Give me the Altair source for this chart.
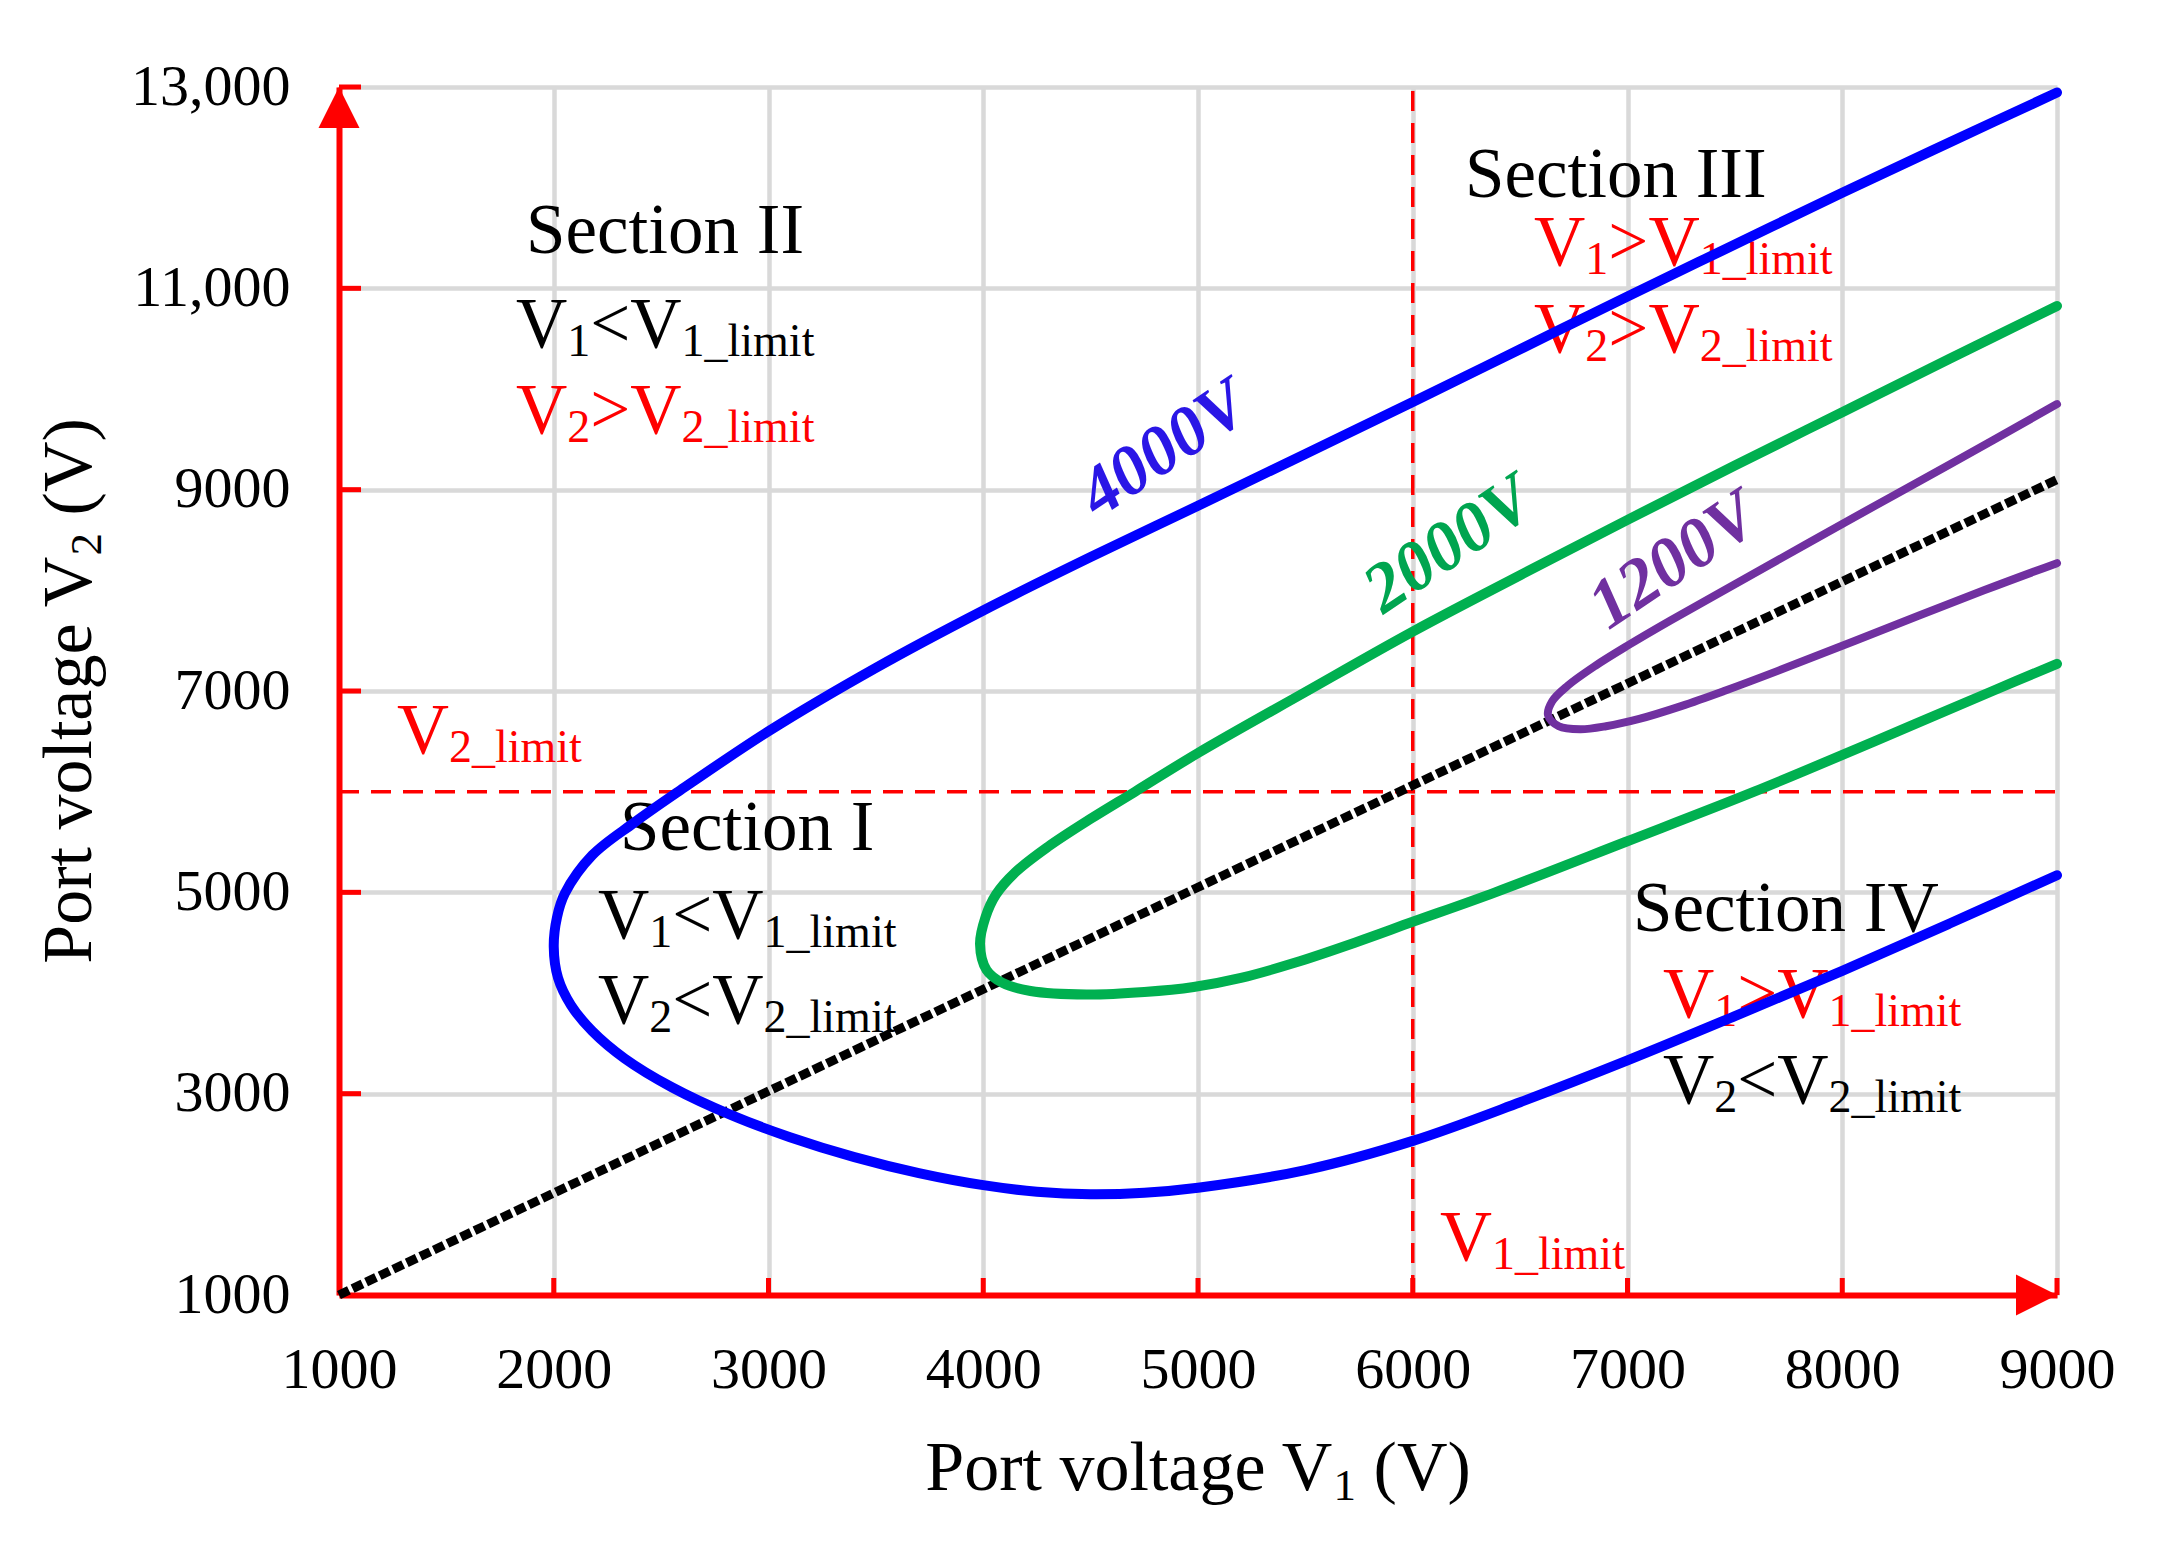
import altair as alt
import pandas as pd

FONT = "Liberation Serif"

# ---------------- data ----------------
X_TICKS = [1000, 2000, 3000, 4000, 5000, 6000, 7000, 8000, 9000]
Y_TICKS = [1000, 3000, 5000, 7000, 9000, 11000, 13000]

# 4000V curve, upper branch (from vertex to the right edge)
BLUE_UP_V1 = [2000, 2015, 2052, 2180, 2373, 2580, 3000, 3500, 4000, 4500, 5000, 5500, 6000,
              6500, 7000, 7500, 8000, 8500, 9000]
BLUE_UP_V2 = [4460, 4750, 4990, 5370, 5690, 6000, 6600, 7230, 7800, 8330, 8840, 9355, 9870,
              10395, 10920, 11435, 11950, 12450, 12945]
# 4000V curve, lower branch
BLUE_LO_V1 = [2000, 2020, 2080, 2180, 2330, 2550, 2830, 3100, 3400, 3700, 4000, 4250, 4500,
              4750, 5000, 5500, 6000, 6500, 7000, 7500, 8000, 8500, 9000]
BLUE_LO_V2 = [4460, 4150, 3880, 3620, 3350, 3064, 2784, 2568, 2370, 2211, 2091, 2026, 2001,
              2016, 2066, 2241, 2531, 2915, 3330, 3770, 4220, 4690, 5170]

# 2000V curve
GREEN_UP_V1 = [3985, 4010, 4060, 4150, 4300, 4500, 4707, 5000, 5500, 6000, 6500, 7000, 7500,
               8000, 8500, 9000]
GREEN_UP_V2 = [4485, 4750, 4980, 5200, 5450, 5730, 6000, 6384, 6990, 7590, 8150, 8700, 9240,
               9770, 10300, 10825]
GREEN_LO_V1 = [3985, 4015, 4090, 4220, 4480, 4750, 4980, 5200, 5450, 5730, 6000, 6384, 6990,
               7590, 8150, 8700, 9000]
GREEN_LO_V2 = [4485, 4230, 4100, 4020, 3985, 4010, 4060, 4150, 4300, 4500, 4707, 5000, 5500,
               6000, 6500, 7000, 7270]

# 1200V curve
PURPLE_UP_V1 = [6630, 6650, 6720, 6850, 7000, 7200, 7500, 8000, 8500, 9000]
PURPLE_UP_V2 = [6760, 6900, 7050, 7250, 7450, 7700, 8060, 8660, 9250, 9850]
PURPLE_LO_V1 = [6630, 6680, 6780, 6900, 7050, 7250, 7450, 7700, 8060, 8660, 9000]
PURPLE_LO_V2 = [6760, 6650, 6620, 6650, 6720, 6850, 7000, 7200, 7500, 8000, 8270]

DIAG_V1 = [1000, 9000]
DIAG_V2 = [1000, 9100]

V1_LIMIT = 6000
V2_LIMIT = 6000

# ---------------- layout ----------------
W, H = 1718, 1208
XS = alt.Scale(domain=[1000, 9000], nice=False, zero=False)
YS = alt.Scale(domain=[1000, 13000], nice=False, zero=False)

AX = alt.Axis(values=X_TICKS, grid=True, gridColor="#d9d9d9", gridWidth=4.5,
              domainColor="#ff0000", domainWidth=6, ticks=False, labelFont=FONT,
              labelFontSize=58, labelColor="black", labelPadding=46, title=None,
              labelFlush=False, labelOverlap=False, format="d")
AY = alt.Axis(values=Y_TICKS, grid=True, gridColor="#d9d9d9", gridWidth=4.5,
              domainColor="#ff0000", domainWidth=6, ticks=False, labelFont=FONT,
              labelFontSize=58, labelColor="black", labelPadding=49, title=None,
              labelFlush=False, labelOverlap=False,
              labelExpr="datum.value >= 10000 ? format(datum.value, ',') : format(datum.value, 'd')")


def X(f):
    return alt.X(f, type="quantitative", scale=XS, axis=AX)


def Y(f):
    return alt.Y(f, type="quantitative", scale=YS, axis=AY)


# Times-like advance widths (em)
CW = {' ': 0.25, '(': 0.333, ')': 0.333, '_': 0.5, '<': 0.564, '>': 0.564, ',': 0.25,
      'V': 0.722, 'S': 0.556, 'I': 0.333, 'P': 0.556, 'e': 0.444, 'c': 0.444, 't': 0.278,
      'i': 0.278, 'o': 0.5, 'n': 0.5, 'l': 0.278, 'm': 0.778, 'r': 0.333, 'v': 0.5,
      'a': 0.444, 'g': 0.5}


def tw(s, fs):
    return sum(CW.get(c, 0.5) for c in s) * fs


def rich(parts, color, x=None, y=None, px=None, py=None, size=71, sub=46, shift=9,
         angle=0, start=0.0):
    layers = []
    off = start
    for txt, is_sub in parts:
        fs = sub if is_sub else size
        lead = len(txt) - len(txt.lstrip(' '))
        off += lead * CW[' '] * fs
        body = txt.lstrip(' ')
        df = pd.DataFrame({"t": [body], "x": [x if x is not None else 0],
                           "y": [y if y is not None else 0]})
        kw = dict(align="left", baseline="alphabetic", font=FONT, fontSize=fs,
                  color=color, dx=off, dy=(shift if is_sub else 0))
        if angle:
            kw["angle"] = angle
        mk = alt.Chart(df).mark_text(**kw)
        if px is None:
            enc = dict(x=X("x"), y=Y("y"), text="t:N")
        else:
            enc = dict(x=alt.value(px), y=alt.value(py), text="t:N")
        layers.append(mk.encode(**enc))
        off += tw(body, fs)
    return layers


def cond(a, op, b):
    return [("V", False), (a, True), (op + "V", False), (b + "_limit", True)]


layers = []

# limit lines
layers.append(alt.Chart(pd.DataFrame({"a": [1000], "b": [9000], "y": [V2_LIMIT]})).mark_rule(
    color="#ff0000", strokeWidth=3.5, strokeDash=[20, 12]).encode(x=X("a"), x2="b", y=Y("y")))
layers.append(alt.Chart(pd.DataFrame({"x": [V1_LIMIT], "a": [1000], "b": [13000]})).mark_rule(
    color="#ff0000", strokeWidth=3.5, strokeDash=[20, 12]).encode(x=X("x"), y=Y("a"), y2="b"))

# ---------------- texts ----------------
layers += rich([("Section II", False)], "black", x=1871, y=11351)
layers += rich(cond("1", "<", "1"), "black", x=1824, y=10417)
layers += rich(cond("2", ">", "2"), "#ff0000", x=1824, y=9563)

layers += rich([("Section III", False)], "black", x=6243, y=11907)
layers += rich(cond("1", ">", "1"), "#ff0000", x=6565, y=11232)
layers += rich(cond("2", ">", "2"), "#ff0000", x=6565, y=10367)

layers += rich([("Section I", False)], "black", x=2309, y=5420)
layers += rich(cond("1", "<", "1"), "black", x=2206, y=4546)
layers += rich(cond("2", "<", "2"), "black", x=2206, y=3702)

layers += rich([("Section IV", False)], "black", x=7026, y=4616)
layers += rich(cond("1", ">", "1"), "#ff0000", x=7165, y=3762)
layers += rich(cond("2", "<", "2"), "black", x=7165, y=2907)

layers += rich([("V", False), ("2_limit", True)], "#ff0000", x=1270, y=6384, size=72)
layers += rich([("V", False), ("1_limit", True)], "#ff0000", x=6127, y=1348, size=72)

# axis titles
TS, TSS = 70, 45
xparts = [("Port voltage V", False), ("1", True), (" (V)", False)]
xtot = tw("Port voltage V", TS) + tw("1", TSS) + tw(" (V)", TS)
layers += rich(xparts, "black", px=W / 2 - xtot / 2, py=1403, size=TS, sub=TSS, shift=10)
yparts = [("Port voltage V", False), ("2", True), (" (V)", False)]
layers += rich(yparts, "black", px=-248, py=H / 2 + xtot / 2, size=TS, sub=TSS, shift=10,
               angle=270)

# ---------------- diagonal (hatched) ----------------
diag_df = pd.DataFrame({"v1": DIAG_V1, "v2": DIAG_V2})
layers.append(alt.Chart(diag_df).mark_line(color="black", strokeWidth=9, strokeDash=[11, 4],
                                           strokeCap="butt").encode(x=X("v1"), y=Y("v2")))

# ---------------- curves (one path per curve) ----------------
for up1, up2, lo1, lo2, col, sw in [
        (BLUE_UP_V1, BLUE_UP_V2, BLUE_LO_V1, BLUE_LO_V2, "#0000ff", 10),
        (GREEN_UP_V1, GREEN_UP_V2, GREEN_LO_V1, GREEN_LO_V2, "#00b050", 10),
        (PURPLE_UP_V1, PURPLE_UP_V2, PURPLE_LO_V1, PURPLE_LO_V2, "#7030a0", 8)]:
    v1s = list(reversed(up1)) + lo1[1:]
    v2s = list(reversed(up2)) + lo2[1:]
    df = pd.DataFrame({"v1": v1s, "v2": v2s, "i": list(range(len(v1s)))})
    layers.append(alt.Chart(df).mark_line(color=col, strokeWidth=sw, interpolate="catmull-rom",
                                          strokeCap="round", strokeJoin="round").encode(
        x=X("v1"), y=Y("v2"), order="i:Q"))

# curve labels
for txt, xv, yv, col in [("4000V", 4842, 9400, "#2a16e6"),
                         ("2000V", 6170, 8450, "#00a550"),
                         ("1200V", 7216, 8291, "#7030a0")]:
    layers.append(alt.Chart(pd.DataFrame({"t": [txt], "x": [xv], "y": [yv]})).mark_text(
        align="center", baseline="middle", font=FONT, fontSize=70, fontStyle="italic",
        fontWeight="bold", color=col, angle=326).encode(x=X("x"), y=Y("y"), text="t:N"))

# ---------------- axis decorations ----------------
layers.append(alt.Chart(pd.DataFrame({"v": Y_TICKS[1:]})).mark_rule(
    color="#ff0000", strokeWidth=5).encode(y=Y("v"), x=alt.value(0), x2=alt.value(22)))
layers.append(alt.Chart(pd.DataFrame({"v": X_TICKS[1:]})).mark_rule(
    color="#ff0000", strokeWidth=5).encode(x=X("v"), y=alt.value(H), y2=alt.value(H - 17)))
layers.append(alt.Chart(pd.DataFrame({"x": [1000], "y": [13000]})).mark_point(
    shape="M0,0L-1,2L1,2Z", filled=True, color="#ff0000", opacity=1, size=1681,
    strokeWidth=0).encode(x=X("x"), y=Y("y")))
layers.append(alt.Chart(pd.DataFrame({"x": [9000], "y": [1000]})).mark_point(
    shape="M0,0L-2,-1L-2,1Z", filled=True, color="#ff0000", opacity=1, size=1681,
    strokeWidth=0).encode(x=X("x"), y=Y("y")))

chart = alt.layer(*layers).properties(
    width=W, height=H,
    padding={"left": 331, "top": 79, "right": 95, "bottom": 251},
    autosize=alt.AutoSizeParams(type="none"),
).configure_view(strokeWidth=0).configure(background="white")

chart.save("out.html", embed_options={"renderer": "svg", "actions": False})
